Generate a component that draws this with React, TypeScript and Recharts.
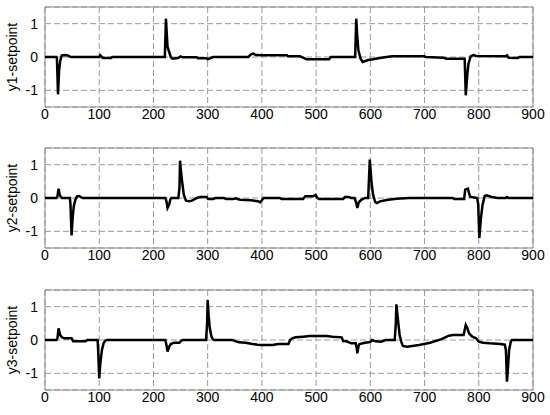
import React from "react"
import { LineChart, Line, XAxis, YAxis, CartesianGrid, ReferenceArea } from "recharts"

const xTicks = [0, 100, 200, 300, 400, 500, 600, 700, 800, 900]
const yTicks = [-1, 0, 1]

// y1 - setpoint, breakpoints
const y1Time = [0, 21, 22, 24, 26, 28, 31, 38, 42, 46, 49, 100, 102, 105, 107, 122, 124, 221, 223, 226, 229, 232, 235, 245, 250, 254, 280, 282, 298, 300, 304, 310, 375, 380, 384, 389, 400, 446, 448, 470, 476, 482, 490, 524, 527, 572, 574, 576, 578, 582, 586, 596, 605, 615, 630, 640, 700, 702, 735, 740, 774, 776, 779, 781, 785, 790, 795, 850, 852, 855, 872, 875, 900]
const y1Value = [0, 0, -0.05, -1.12, -0.4, -0.12, 0.05, 0.06, 0.05, 0.01, 0, 0, 0.05, 0, -0.03, -0.03, 0, 0, 1.15, 0.3, 0.15, 0, -0.05, -0.03, 0.02, -0.01, -0.01, -0.04, -0.04, -0.07, -0.04, 0, 0, 0.08, 0.1, 0.06, 0.05, 0.05, 0.02, 0.02, -0.02, -0.07, -0.07, -0.07, 0, 0, 1.15, 0.6, 0.2, -0.05, -0.15, -0.09, -0.07, -0.04, 0, 0.02, 0.02, 0, -0.02, -0.05, -0.05, -1.15, -0.5, -0.2, 0.02, 0.06, 0.03, 0.02, 0.05, -0.02, -0.03, 0, 0]

// y2 - setpoint
const y2Time = [0, 21, 23, 25, 27, 29, 31, 46, 47, 49, 51, 53, 56, 59, 63, 67, 70, 222, 224, 226, 229, 231, 233, 246, 248, 249, 252, 256, 260, 266, 272, 280, 286, 298, 301, 310, 314, 330, 334, 347, 352, 355, 360, 380, 393, 397, 400, 403, 433, 436, 476, 480, 494, 499, 502, 505, 550, 553, 560, 565, 571, 574, 576, 579, 584, 590, 596, 599, 602, 605, 609, 612, 618, 630, 648, 672, 752, 755, 773, 775, 780, 782, 784, 797, 799, 801, 804, 807, 811, 814, 824, 835, 850, 852, 855, 900]
const y2Value = [0, 0, 0.05, 0.28, 0.1, 0.04, 0, 0, -0.2, -1.12, -0.6, -0.25, -0.05, 0.05, 0.06, 0.02, 0, 0, -0.1, -0.3, -0.2, -0.05, 0, 0, 0.3, 1.12, 0.6, 0.1, -0.08, -0.1, -0.07, 0, 0.03, 0.03, -0.03, -0.03, 0, 0, -0.03, -0.03, -0.01, -0.03, -0.05, -0.07, -0.1, -0.13, -0.07, 0, 0, -0.03, -0.03, 0.05, 0.05, 0.09, 0.01, -0.03, -0.03, 0.03, 0.03, 0, 0, -0.15, -0.3, -0.12, -0.05, 0, 0, 1.15, 0.5, 0.1, -0.12, -0.15, -0.1, -0.06, -0.02, 0, 0, -0.03, -0.03, 0.25, 0.28, 0.15, 0.04, 0, -0.2, -1.2, -0.6, -0.2, 0.06, 0.08, 0.03, 0, 0, 0.03, 0, 0]

// y3 - setpoint
const y3Time = [0, 21, 23, 25, 28, 31, 36, 49, 52, 75, 78, 97, 98, 100, 102, 105, 108, 111, 114, 222, 224, 226, 229, 232, 238, 248, 251, 254, 297, 299, 300, 302, 304, 307, 310, 312, 346, 352, 358, 370, 380, 392, 400, 420, 430, 449, 452, 456, 462, 476, 488, 519, 530, 547, 550, 556, 565, 573, 575, 576, 578, 580, 590, 600, 603, 606, 610, 620, 628, 645, 647, 648, 651, 654, 657, 660, 668, 690, 710, 730, 745, 752, 772, 774, 776, 779, 782, 788, 795, 800, 808, 820, 840, 848, 850, 852, 854, 856, 859, 861, 900]
const y3Value = [0, 0, 0.05, 0.35, 0.15, 0.08, 0.05, 0.05, -0.04, -0.04, 0, 0, -0.3, -1.15, -0.7, -0.3, -0.1, -0.02, 0, 0, -0.15, -0.35, -0.2, -0.12, -0.08, -0.08, -0.02, 0, 0, 0.5, 1.2, 0.7, 0.35, 0.1, 0.02, 0, 0, -0.04, -0.07, -0.08, -0.11, -0.14, -0.15, -0.15, -0.12, -0.12, 0, 0.05, 0.08, 0.1, 0.12, 0.12, 0.1, 0.08, -0.03, -0.04, -0.1, -0.1, -0.25, -0.4, -0.2, -0.12, -0.08, -0.06, 0, -0.02, -0.04, -0.05, 0, 0, 0.5, 1.07, 0.6, 0.15, -0.05, -0.18, -0.2, -0.15, -0.08, 0.02, 0.13, 0.15, 0.15, 0.3, 0.45, 0.35, 0.2, 0.1, 0.05, -0.05, -0.08, -0.1, -0.12, -0.14, -0.3, -1.25, -0.8, -0.3, -0.05, 0, 0]

const font = "'Liberation Sans', Arial, Helvetica, sans-serif"
const tickStyle = { fill: "#000", fontSize: 14, fontFamily: font }

interface PanelProps {
  name: string
  time: number[]
  value: number[]
  top: number
}

function Panel({ name, time, value, top }: PanelProps) {
  const data = time.map((t, i) => ({ t, v: value[i] }))
  return (
    <div style={{ position: "absolute", left: 0, top }}>
      <LineChart width={550} height={130} data={data} margin={{ top: 7, right: 17, left: 20, bottom: 0 }}>
        <CartesianGrid stroke="#9a9a9a" strokeDasharray="6 3" />
        <ReferenceArea x1={0} x2={900} y1={-1.5} y2={1.5} fill="none" stroke="#8c8c8c" strokeWidth={1} />
        <XAxis
          type="number"
          dataKey="t"
          domain={[0, 900]}
          ticks={xTicks}
          interval={0}
          tickSize={0}
          tickMargin={2}
          axisLine={false}
          height={23}
          tick={tickStyle}
        />
        <YAxis
          type="number"
          domain={[-1.5, 1.5]}
          ticks={yTicks}
          allowDataOverflow
          width={25}
          tickSize={0}
          tickMargin={7}
          axisLine={false}
          tick={tickStyle}
          label={() => (
            <text x={12} y={57} transform="rotate(-90 12 57)" textAnchor="middle" dominantBaseline="central" fill="#000" fontSize={14} fontFamily={font}>
              {name}
            </text>
          )}
        />
        <Line type="linear" dataKey="v" stroke="#000" strokeWidth={2.5} dot={false} isAnimationActive={false} />
      </LineChart>
    </div>
  )
}

export default function App() {
  return (
    <div style={{ position: "absolute", left: 0, top: 0, width: 550, height: 415, background: "#fff" }}>
      <Panel name="y1-setpoint" time={y1Time} value={y1Value} top={0} />
      <Panel name="y2-setpoint" time={y2Time} value={y2Value} top={141} />
      <Panel name="y3-setpoint" time={y3Time} value={y3Value} top={283} />
    </div>
  )
}
